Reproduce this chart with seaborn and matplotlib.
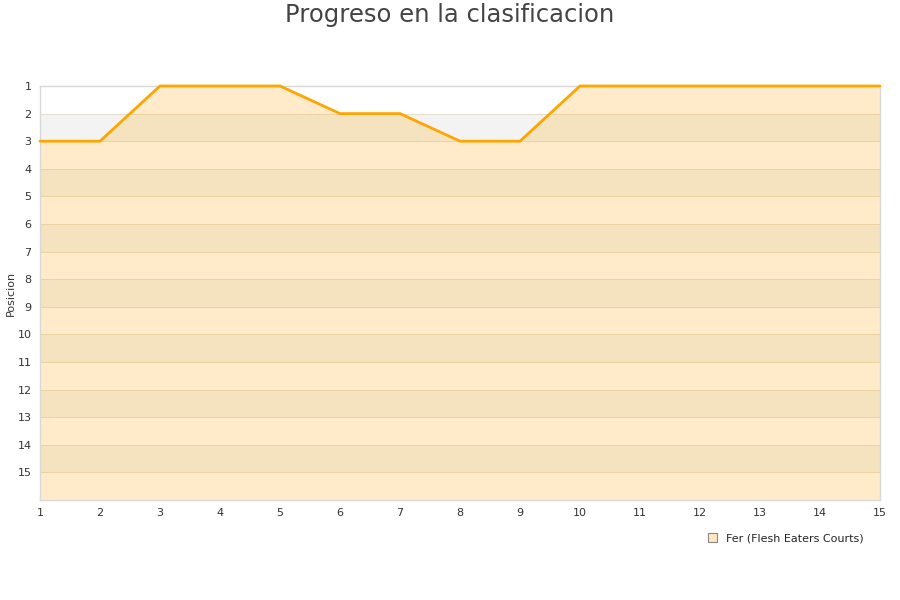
import pandas as pd
import matplotlib.pyplot as plt
import matplotlib.patches as mpatches
import seaborn as sns

# Data
jornadas = list(range(1, 16))
posiciones = [3, 3, 1, 1, 1, 2, 2, 3, 3, 1, 1, 1, 1, 1, 1]
jugador = "Fer (Flesh Eaters Courts)"
n_posiciones = 15

df = pd.DataFrame({"Jornada": jornadas, "Posicion": posiciones})

sns.set_theme(style="white")
plt.rcParams['font.family'] = ['DejaVu Sans']

fig = plt.figure(figsize=(9, 6), dpi=100)
ax = fig.add_axes([0.0444, 0.1667, 0.9334, 0.69])

# alternating background bands
for k in range(1, n_posiciones + 1):
    color = '#f3f3f3' if k % 2 == 0 else 'white'
    ax.axhspan(k, k + 1, color=color, lw=0, zorder=0)
for k in range(2, n_posiciones + 1):
    ax.axhline(k, color='#e8ddcc', lw=0.7, zorder=1)

# area under the line (toward the bottom of the inverted axis)
ax.fill_between(df["Jornada"], df["Posicion"], n_posiciones + 1,
                color='#ffa500', alpha=0.21, lw=0, zorder=2)
sns.lineplot(data=df, x="Jornada", y="Posicion", ax=ax, color='#ffa500',
             lw=2, zorder=3, clip_on=False)

ax.set_xlim(1, 15)
ax.set_ylim(n_posiciones + 1, 1)
ax.set_xticks(jornadas)
ax.set_yticks(range(1, n_posiciones + 1))
ax.tick_params(axis='both', labelsize=8, colors='#333333', length=0, pad=6)
ax.set_xlabel("")
ax.set_ylabel("Posicion", fontsize=8, color='#333333', labelpad=1)
for side in ['left', 'bottom', 'right', 'top']:
    ax.spines[side].set_color('#d8d8d8')
    ax.spines[side].set_linewidth(1)

fig.suptitle("Progreso en la clasificacion", fontsize=17.5, color='#444444', y=0.995)

patch = mpatches.Patch(facecolor='#fde8c2', edgecolor='#888888', lw=0.8, label=jugador)
fig.legend(handles=[patch], loc='center', bbox_to_anchor=(0.873, 0.103), frameon=False,
           fontsize=8, handlelength=0.8, handleheight=0.8, handletextpad=0.8)

plt.savefig('out.png', dpi=100)
plt.close()
